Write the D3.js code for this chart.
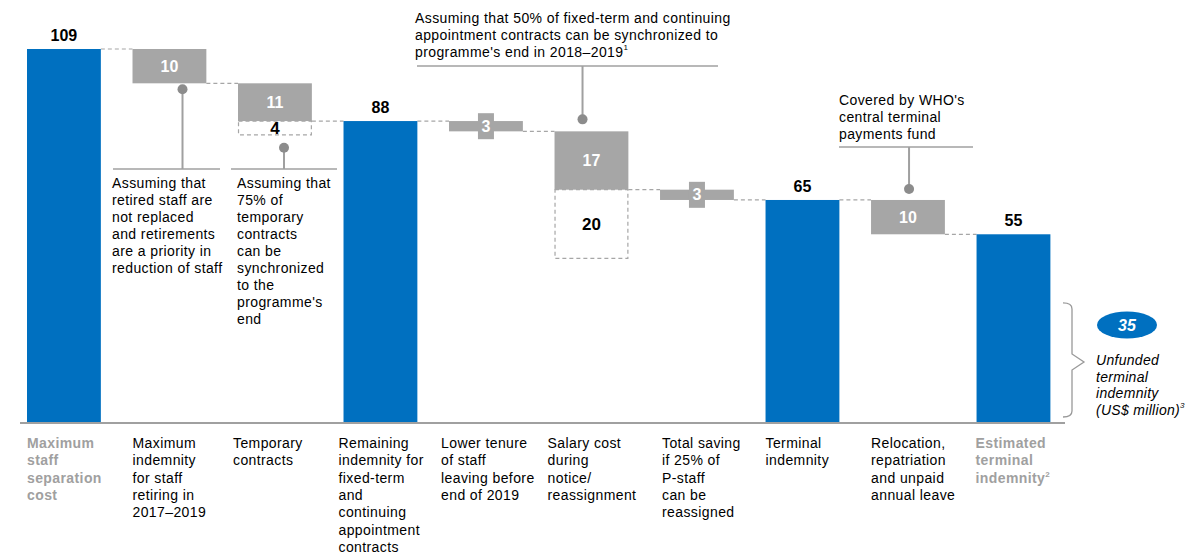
<!DOCTYPE html>
<html>
<head>
<meta charset="utf-8">
<script src="https://cdn.jsdelivr.net/npm/d3@7"></script>
<style>
  body { margin: 0; background: #fff; }
  svg text { font-family: "Liberation Sans", Arial, sans-serif; }
</style>
</head>
<body>
<div id="graph"></div>
<script>
// categories (multi-line labels)
const categories = [
    ["Maximum", "staff", "separation", "cost"],
    ["Maximum", "indemnity", "for staff", "retiring in", "2017–2019"],
    ["Temporary", "contracts"],
    ["Remaining", "indemnity for", "fixed-term", "and", "continuing", "appointment", "contracts"],
    ["Lower tenure", "of staff", "leaving before", "end of 2019"],
    ["Salary cost", "during", "notice/", "reassignment"],
    ["Total saving", "if 25% of", "P-staff", "can be", "reassigned"],
    ["Terminal", "indemnity"],
    ["Relocation,", "repatriation", "and unpaid", "annual leave"],
    ["Estimated", "terminal", "indemnity"]
];
// bar type: total or step (negative change)
const kinds = ["total", "step", "step", "total", "step", "step", "step", "total", "step", "total"];
const values = [109, 10, 11, 88, 3, 17, 3, 65, 10, 55];
// extra dashed (not realised) part below a step
const extras = [0, 0, 4, 0, 0, 20, 0, 0, 0, 0];
const unfunded = 35;

const width = 1195, height = 556;
const blue = "#0070C0", grey = "#A6A6A6", lineGrey = "#A0A0A0";

const svg = d3.select("#graph").append("svg")
    .attr("width", width)
    .attr("height", height);

const x = d3.scaleBand().domain(d3.range(categories.length)).range([27, 1050.4]).paddingInner(0.3).paddingOuter(0);
const y = d3.scaleLinear().domain([0, 109]).range([423, 49]);
const bw = x.bandwidth();

// build waterfall rows
let level = 0;
const rows = values.map((v, i) => {
    let top, bottom;
    if (kinds[i] === "total") { top = v; bottom = 0; level = v; }
    else { top = level; bottom = level - v; level = bottom; }
    return { i, v, top, bottom, kind: kinds[i], extra: extras[i] };
});

// connectors
for (let i = 0; i < rows.length - 1; i++) {
    const lv = rows[i].kind === "total" ? rows[i].top : rows[i].bottom;
    svg.append("line")
        .attr("x1", x(i) + bw).attr("x2", x(i + 1))
        .attr("y1", y(lv)).attr("y2", y(lv))
        .attr("stroke", grey).attr("stroke-width", 1.2)
        .attr("stroke-dasharray", "4,3");
}

// dashed extra boxes
rows.filter(d => d.extra > 0).forEach(d => {
    svg.append("rect")
        .attr("x", x(d.i) + 0.5).attr("y", y(d.bottom))
        .attr("width", bw - 1).attr("height", y(d.bottom - d.extra) - y(d.bottom))
        .attr("fill", "none").attr("stroke", grey).attr("stroke-width", 1.2)
        .attr("stroke-dasharray", "4,3");
    svg.append("text")
        .attr("x", x(d.i) + bw / 2)
        .attr("y", d.extra < 8 ? y(d.bottom) + 7 : (y(d.bottom) + y(d.bottom - d.extra)) / 2)
        .attr("dy", "0.35em").attr("text-anchor", "middle")
        .attr("font-size", 17).attr("font-weight", "bold").attr("fill", "#000")
        .text(d.extra);
});

// bars
svg.selectAll("rect.bar").data(rows).join("rect")
    .attr("class", "bar")
    .attr("x", d => x(d.i))
    .attr("y", d => y(d.top))
    .attr("width", bw)
    .attr("height", d => y(d.bottom) - y(d.top))
    .attr("fill", d => d.kind === "total" ? blue : grey);

// labels for totals
rows.filter(d => d.kind === "total").forEach(d => {
    svg.append("text")
        .attr("x", x(d.i) + bw / 2).attr("y", y(d.top) - 14)
        .attr("dy", "0.35em").attr("text-anchor", "middle")
        .attr("font-size", 16).attr("font-weight", "bold").attr("fill", "#000")
        .text(d.v);
});

// labels for steps
rows.filter(d => d.kind === "step").forEach(d => {
    const cx = x(d.i) + bw / 2, cy = (y(d.top) + y(d.bottom)) / 2;
    if (y(d.bottom) - y(d.top) < 20) {
        svg.append("rect")
            .attr("x", cx - 8).attr("y", cy - 13)
            .attr("width", 16).attr("height", 26)
            .attr("fill", grey);
    }
    svg.append("text")
        .attr("x", cx).attr("y", cy)
        .attr("dy", "0.35em").attr("text-anchor", "middle")
        .attr("font-size", 16).attr("font-weight", "bold").attr("fill", "#fff")
        .text(d.v);
});

// axis line
svg.append("line")
    .attr("x1", 20).attr("x2", 1065)
    .attr("y1", y(0)).attr("y2", y(0))
    .attr("stroke", lineGrey).attr("stroke-width", 2);

// category labels
const labelShift = [0, 0, -5, -5, -8, -7, 2, 0, 0, -1];
categories.forEach((lines, i) => {
    const special = i === 0 || i === categories.length - 1;
    const t = svg.append("text")
        .attr("x", x(i) + labelShift[i]).attr("y", 448)
        .attr("font-size", 14).attr("letter-spacing", 0.4)
        .attr("fill", special ? "#A0A0A0" : "#000")
        .attr("font-weight", special ? "bold" : "normal");
    lines.forEach((l, k) => {
        t.append("tspan").attr("x", x(i) + labelShift[i]).attr("dy", k === 0 ? 0 : 17.3).text(l);
    });
    if (i === categories.length - 1) {
        t.append("tspan").attr("font-size", 8).attr("dy", -6).text("2");
    }
});

// annotations
function callout(barIdx, dotY, lineY, hx1, hx2, dx) {
    const cx = x(barIdx) + dx;
    svg.append("line")
        .attr("x1", hx1).attr("x2", hx2).attr("y1", lineY).attr("y2", lineY)
        .attr("stroke", lineGrey).attr("stroke-width", 1.3);
    svg.append("line")
        .attr("x1", cx).attr("x2", cx).attr("y1", lineY).attr("y2", dotY)
        .attr("stroke", lineGrey).attr("stroke-width", 2);
    svg.append("circle")
        .attr("cx", cx).attr("cy", dotY).attr("r", 5)
        .attr("fill", "#8C8C8C");
}
function textBlock(lines, tx, ty, sup) {
    const t = svg.append("text").attr("x", tx).attr("y", ty)
        .attr("font-size", 14).attr("letter-spacing", 0.4).attr("fill", "#000");
    lines.forEach((l, k) => t.append("tspan").attr("x", tx).attr("dy", k === 0 ? 0 : 17).text(l));
    if (sup) t.append("tspan").attr("font-size", 8).attr("dy", -7).text(sup);
    return t;
}

const note1 = ["Assuming that", "retired staff are", "not replaced", "and retirements", "are a priority in", "reduction of staff"];
const note2 = ["Assuming that", "75% of", "temporary", "contracts", "can be", "synchronized", "to the", "programme's", "end"];
const note3 = ["Assuming that 50% of fixed-term and continuing", "appointment contracts can be synchronized to", "programme's end in 2018–2019"];
const note4 = ["Covered by WHO's", "central terminal", "payments fund"];

callout(1, y(rows[1].bottom) + 6, 169, 113, 220, 50);
textBlock(note1, 112, 188);
callout(2, y(rows[2].bottom - extras[2]) + 13, 169, 231, 337, 46);
textBlock(note2, 237, 188);
callout(5, y(rows[5].top) - 12, 66, 417, 718, 28);
textBlock(note3, 415, 23, "1");
callout(8, y(rows[8].top) - 11, 147, 839, 973, 38);
textBlock(note4, 839, 105);

// unfunded brace
const b0 = y(unfunded), b1 = y(0) - 6, bm = 362;
svg.append("path")
    .attr("d", `M1063,${b0} Q1072,${b0} 1072,${b0 + 6} L1072,${bm - 8} L1084,${bm} L1072,${bm + 8} L1072,${b1 - 6} Q1072,${b1} 1063,${b1}`)
    .attr("fill", "none").attr("stroke", "#999").attr("stroke-width", 1.3);

svg.append("ellipse")
    .attr("cx", 1127).attr("cy", 325).attr("rx", 30).attr("ry", 13.5)
    .attr("fill", blue);
svg.append("text")
    .attr("x", 1127).attr("y", 325).attr("dy", "0.35em").attr("text-anchor", "middle")
    .attr("font-size", 16).attr("font-weight", "bold").attr("font-style", "italic")
    .attr("fill", "#fff").text(unfunded);

const unf = svg.append("text").attr("x", 1096).attr("y", 365)
    .attr("font-size", 14).attr("font-style", "italic").attr("letter-spacing", 0.3).attr("fill", "#000");
["Unfunded", "terminal", "indemnity", "(US$ million)"].forEach((l, k) =>
    unf.append("tspan").attr("x", 1096).attr("dy", k === 0 ? 0 : 16.7).text(l));
unf.append("tspan").attr("font-size", 8).attr("dy", -7).text("3");
</script>
</body>
</html>
